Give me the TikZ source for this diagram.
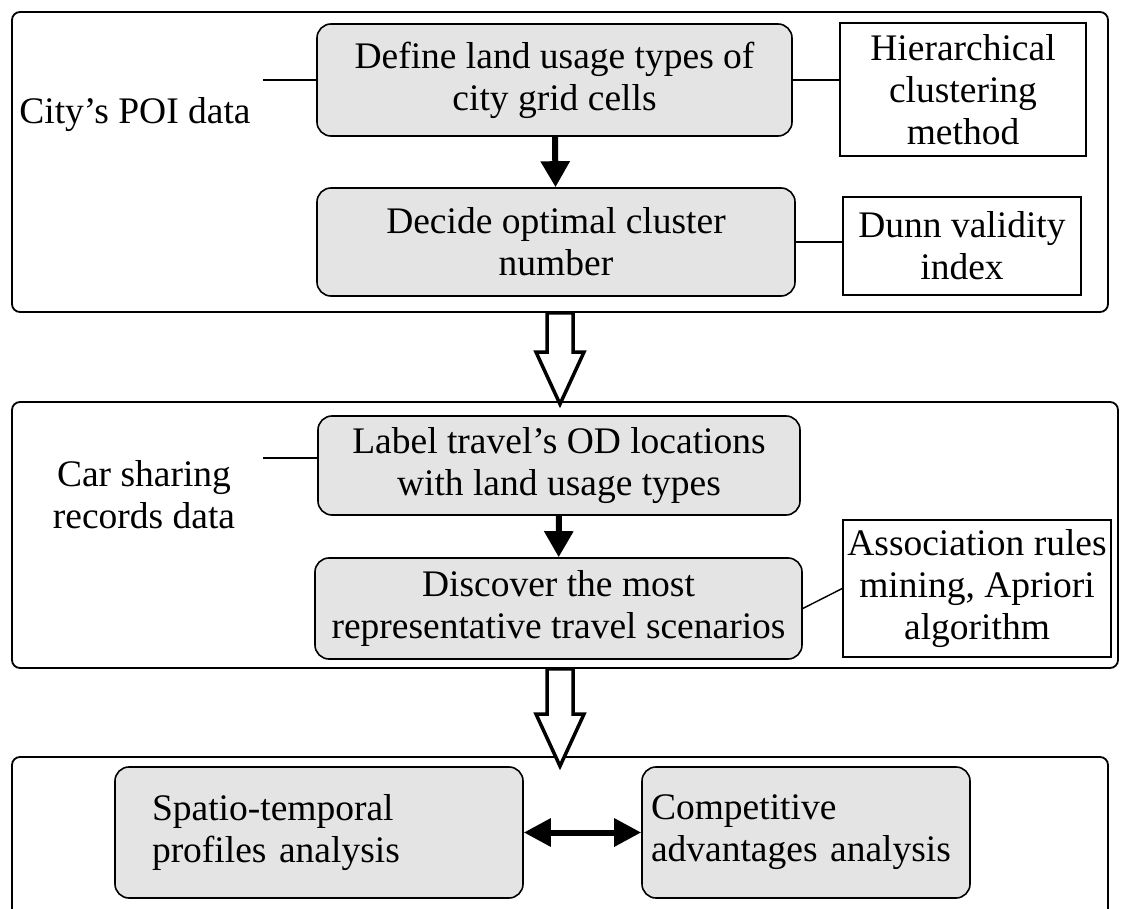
\documentclass[tikz,border=0pt]{standalone}
\usepackage{fontspec}
\setmainfont{Liberation Serif}
\usepackage{xcolor}
\usetikzlibrary{calc, positioning, arrows.meta}

\definecolor{boxgrey}{RGB}{228,228,228}

% hollow block arrow between two frames
\newcommand{\hollowarrow}[2]{%
  \draw[hollow arrow] ($(#1)+(-13,0)$) -- ($(#2)+(-13,-52)$) -- ($(#2)+(-24,-52)$)
    -- (#2) -- ($(#2)+(24,-52)$) -- ($(#2)+(13,-52)$) -- ($(#1)+(13,0)$) -- cycle;}

\begin{document}
\begin{tikzpicture}[x=1pt,y=-1pt,
                    font=\fontsize{37.5}{42}\selectfont,
                    frame/.style={draw,line width=1.8pt,rounded corners=8pt,inner sep=0pt},
                    step box/.style={draw,line width=1.6pt,fill=boxgrey,rounded corners=14pt,
                                     inner sep=0pt,align=center},
                    method box/.style={draw,line width=1.6pt,inner sep=0pt,align=center},
                    thin line/.style={line width=1.4pt},
                    hollow arrow/.style={line width=3.5pt,fill=white,line join=miter},
                    down arrow/.style={line width=6pt,-{Triangle[length=26pt,width=28pt]}},
                    both arrow/.style={line width=6pt,{Triangle[length=27pt,width=27pt]}-{Triangle[length=27pt,width=27pt]}}]

  \path[use as bounding box] (0,0) rectangle (1128,909);
  \clip (0,0) rectangle (1128,909);

  % the three stages
  \node[frame, minimum width=1096, minimum height=300] (poi) at (560,162) {};
  \node[frame, minimum width=1106, minimum height=266] (cs)  at (565,535) {};
  \node[frame, minimum width=1096, minimum height=220] (res) at (560,867) {};

  % stage 1
  \node (poidata) at (135,115) {City’s POI data};
  \coordinate (poiend) at (263,80);
  \node[step box, minimum width=475, minimum height=112] (define) at (554.5,80)
    {Define land usage types of\\city grid cells};
  \node[method box, minimum width=246, minimum height=133] (hier) at (963,89.5)
    {Hierarchical\\clustering\\method};
  \node[step box, minimum width=478, minimum height=108] (decide) at (556,242)
    {Decide optimal cluster\\number};
  \node[method box, minimum width=238, minimum height=98] (dunn) at (962,246)
    {Dunn validity\\index};

  % stage 2
  \node[align=center] (csdata) at (144,495) {Car sharing\\records data};
  \coordinate (csend) at (263,458);
  \node[step box, minimum width=482, minimum height=99] (label) at (559,465.5)
    {Label travel’s OD locations\\with land usage types};
  \node[step box, minimum width=487, minimum height=101] (discover) at (558.5,608.5)
    {Discover the most\\representative travel scenarios};
  \node[method box, minimum width=268, minimum height=137] (assoc) at (977,588.5)
    {Association rules\\mining, Apriori\\algorithm};

  % stage 3
  \node[step box, align=left, text width=334, inner xsep=37, minimum height=131] (spatio) at (319,832.5)
    {Spatio-temporal\\profiles analysis};
  \node[step box, align=left, text width=310, inner xsep=9, minimum height=131] (comp) at (806,832.5)
    {Competitive\\advantages analysis};

  \path[thin line]
    (poiend) edge (poiend -| define.west)
    (define.east) edge (define.east -| hier.west)
    (decide.east) edge (decide.east -| dunn.west)
    (csend) edge (csend -| label.west)
    (discover.east) edge (assoc.west);

  \path
    (define) edge[down arrow] (decide)
    (label) edge[down arrow] (discover)
    (spatio) edge[both arrow] (comp);

  \coordinate (tip1) at ($(cs.north -| poi.south)+(0,3)$);
  \coordinate (tail2) at (cs.south -| poi.south);
  \coordinate (tip2) at ($(res.north)+(0,10)$);
  \hollowarrow{poi.south}{tip1}
  \hollowarrow{tail2}{tip2}

\end{tikzpicture}
\end{document}
